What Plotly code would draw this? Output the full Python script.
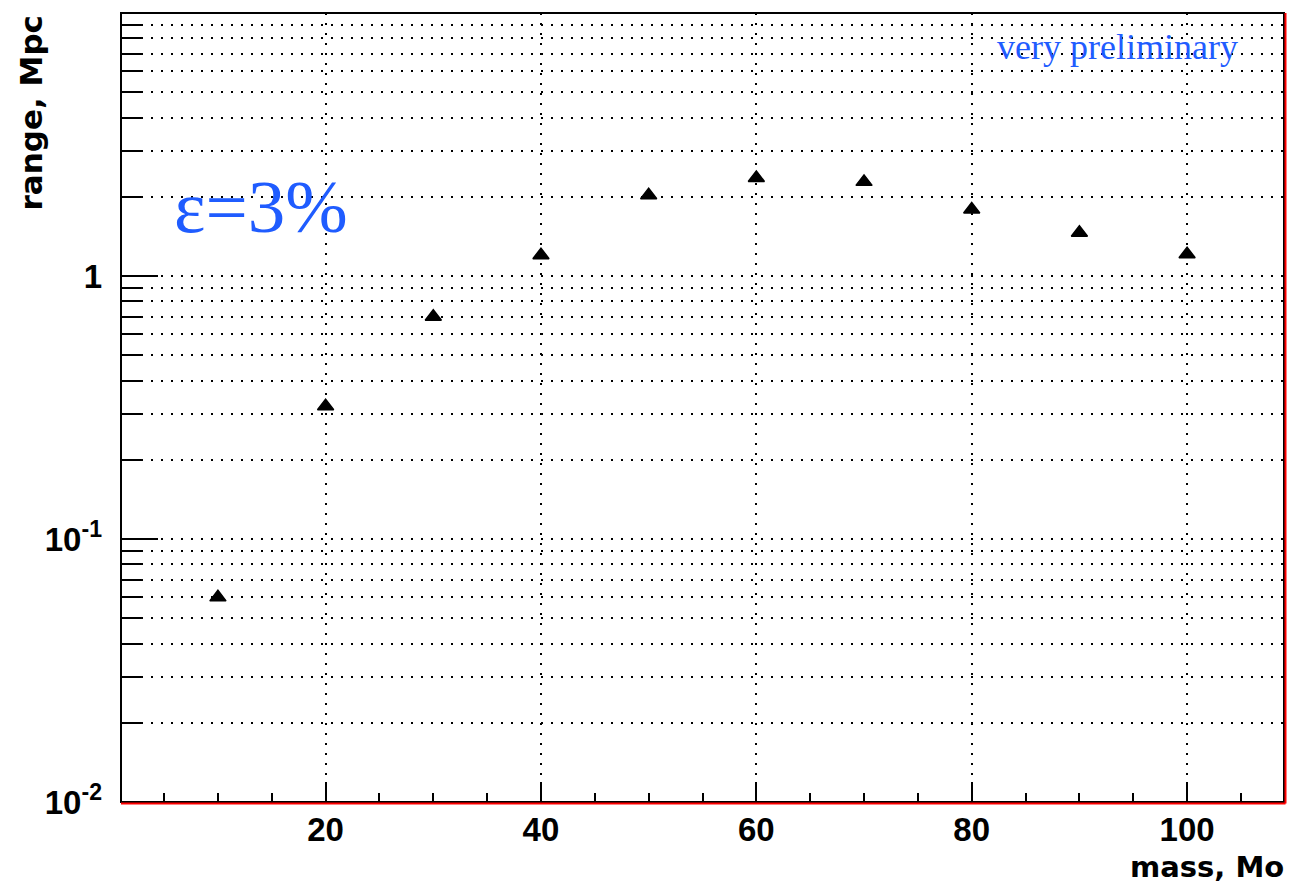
import plotly.graph_objects as go

# ---- data ----
mass = [10, 20, 30, 40, 50, 60, 70, 80, 90, 100]
range_mpc = [0.060, 0.32, 0.70, 1.20, 2.03, 2.36, 2.28, 1.79, 1.46, 1.21]

x_major = [20, 40, 60, 80, 100]
y_major = [0.01, 0.1, 1, 10]
y_major_text = ["10<sup>-2</sup>", "10<sup>-1</sup>", "1", ""]
y_minor = [k * 10.0 ** e for e in (-2, -1, 0) for k in range(2, 10)]

W, H = 1289, 886
L, R, T, B = 121, 5, 13, 84
PW, PH = W - L - R, H - T - B

def px_x(p):
    return (p - L) / PW

def px_y(p):
    return (H - B - p) / PH

tick_font = dict(family="Liberation Sans, Arial, sans-serif", size=33, color="black", weight="bold")
title_font = dict(family="DejaVu Sans, sans-serif", size=31, color="black", weight="bold")
blue = "#1f5cff"
grid_dash = "2px,8px"
grid_w = 1.5

fig = go.Figure()
fig.add_trace(go.Scatter(
    x=mass, y=range_mpc, mode="markers",
    marker=dict(symbol="triangle-up", size=14, color="black",
                line=dict(color="black", width=1.5)),
    showlegend=False,
))

fig.update_xaxes(
    range=[1, 109],
    tickmode="array", tickvals=x_major,
    ticks="inside", ticklen=20, tickwidth=1.5, tickcolor="black",
    tickfont=tick_font, ticklabelstandoff=5,
    showgrid=True, gridcolor="black", gridwidth=grid_w, griddash=grid_dash,
    zeroline=False, showline=False,
    minor=dict(tickmode="linear", tick0=0, dtick=5, ticks="inside", ticklen=9,
               tickwidth=1.5, tickcolor="black", showgrid=False),
)
fig.update_yaxes(
    type="log", range=[-2, 1],
    tickmode="array", tickvals=y_major, ticktext=y_major_text,
    ticks="inside", ticklen=37, tickwidth=1.5, tickcolor="black",
    tickfont=tick_font, ticklabelstandoff=18,
    showgrid=True, gridcolor="black", gridwidth=grid_w, griddash=grid_dash,
    zeroline=False, showline=False,
    minor=dict(tickmode="array", tickvals=y_minor, ticks="inside", ticklen=20,
               tickwidth=1.5, tickcolor="black", showgrid=True,
               gridcolor="black", gridwidth=grid_w, griddash=grid_dash),
)

shapes = [
    dict(type="rect", xref="paper", yref="paper", x0=0, x1=1, y0=0, y1=1,
         line=dict(color="black", width=2), layer="above"),
    dict(type="line", xref="paper", yref="paper", x0=0, x1=1 + 1.5 / PW,
         y0=-1.5 / PH, y1=-1.5 / PH, line=dict(color="red", width=2), layer="above"),
    dict(type="line", xref="paper", yref="paper", x0=1 + 1.5 / PW, x1=1 + 1.5 / PW,
         y0=-1.5 / PH, y1=1, line=dict(color="red", width=2), layer="above"),
]

annotations = [
    dict(text="ε=3%", xref="paper", yref="paper", x=px_x(172), y=px_y(206),
         xanchor="left", yanchor="middle", showarrow=False,
         font=dict(family="Liberation Serif, Times New Roman, serif", size=75, color=blue)),
    dict(text="very preliminary", xref="paper", yref="paper", x=px_x(995), y=px_y(47),
         xanchor="left", yanchor="middle", showarrow=False,
         font=dict(family="Liberation Serif, Times New Roman, serif", size=36, color=blue)),
    dict(text="range, Mpc", xref="paper", yref="paper", x=px_x(30), y=px_y(13),
         xanchor="center", yanchor="top", textangle=-90, showarrow=False,
         font=title_font),
    dict(text="mass, Mo", xref="paper", yref="paper", x=px_x(1286), y=px_y(886),
         xanchor="right", yanchor="bottom", showarrow=False,
         font=dict(family="DejaVu Sans, sans-serif", size=29, color="black", weight="bold")),
]

fig.update_layout(
    width=W, height=H,
    margin=dict(l=L, r=R, t=T, b=B, pad=0),
    paper_bgcolor="white", plot_bgcolor="white",
    shapes=shapes, annotations=annotations,
    showlegend=False,
)

fig.write_html("out.html")
